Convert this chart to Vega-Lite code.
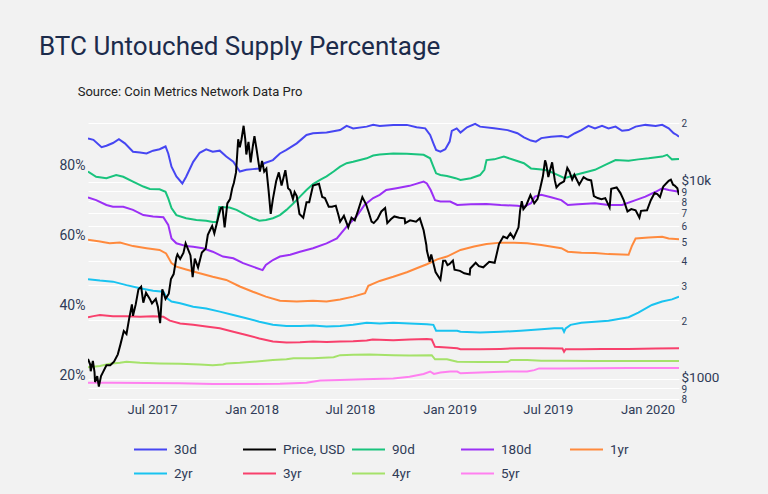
{
  "$schema": "https://vega.github.io/schema/vega-lite/v6.json",
  "width": 591,
  "height": 286,
  "autosize": {"type": "none"},
  "padding": {"left": 88, "top": 116, "right": 89, "bottom": 92},
  "background": "#f2f2f2",
  "title": {
    "text": "BTC Untouched Supply Percentage",
    "subtitle": "\u200b\u00a0\u00a0\u00a0\u00a0\u00a0\u00a0\u00a0\u00a0\u00a0\u00a0\u00a0\u00a0Source: Coin Metrics Network Data Pro",
    "anchor": "start",
    "frame": "group",
    "dx": -49,
    "offset": 17,
    "font": "Roboto",
    "fontSize": 26,
    "fontWeight": "normal",
    "color": "#1c2b4b",
    "subtitleFont": "Roboto",
    "subtitleFontSize": 13,
    "subtitleColor": "#222222",
    "subtitlePadding": 26
  },
  "config": {
    "view": {"stroke": null},
    "font": "Roboto",
    "axis": {"domain": false, "ticks": false, "labelFont": "Roboto", "labelColor": "#2f3b57", "title": null}
  },
  "datasets": {
    "supply": [
      {"d":"2017-03-05","s":"30d","v":87.9},{"d":"2017-03-15","s":"30d","v":87.5},{"d":"2017-03-30","s":"30d","v":85.4},{"d":"2017-04-08","s":"30d","v":85.8},{"d":"2017-04-20","s":"30d","v":86.6},{"d":"2017-05-01","s":"30d","v":87.7},{"d":"2017-05-12","s":"30d","v":86.5},{"d":"2017-05-27","s":"30d","v":84.1},{"d":"2017-06-09","s":"30d","v":83.9},{"d":"2017-06-21","s":"30d","v":83.6},{"d":"2017-07-03","s":"30d","v":84.4},{"d":"2017-07-15","s":"30d","v":84.8},{"d":"2017-07-26","s":"30d","v":85.6},{"d":"2017-07-31","s":"30d","v":83.6},{"d":"2017-08-06","s":"30d","v":79.8},{"d":"2017-08-15","s":"30d","v":77.0},{"d":"2017-08-26","s":"30d","v":75.0},{"d":"2017-09-02","s":"30d","v":76.9},{"d":"2017-09-15","s":"30d","v":81.2},{"d":"2017-09-27","s":"30d","v":83.8},{"d":"2017-10-09","s":"30d","v":84.8},{"d":"2017-10-21","s":"30d","v":84.1},{"d":"2017-11-03","s":"30d","v":84.4},{"d":"2017-11-15","s":"30d","v":82.7},{"d":"2017-11-28","s":"30d","v":81.2},{"d":"2017-12-10","s":"30d","v":78.4},{"d":"2017-12-22","s":"30d","v":78.9},{"d":"2018-01-03","s":"30d","v":79.1},{"d":"2018-01-15","s":"30d","v":79.3},{"d":"2018-01-24","s":"30d","v":80.8},{"d":"2018-02-09","s":"30d","v":81.7},{"d":"2018-02-22","s":"30d","v":83.6},{"d":"2018-03-06","s":"30d","v":84.6},{"d":"2018-03-25","s":"30d","v":86.5},{"d":"2018-04-12","s":"30d","v":88.9},{"d":"2018-04-24","s":"30d","v":89.4},{"d":"2018-05-19","s":"30d","v":89.6},{"d":"2018-06-13","s":"30d","v":90.3},{"d":"2018-06-25","s":"30d","v":91.5},{"d":"2018-07-07","s":"30d","v":90.8},{"d":"2018-08-01","s":"30d","v":91.3},{"d":"2018-08-13","s":"30d","v":91.8},{"d":"2018-08-25","s":"30d","v":91.5},{"d":"2018-09-19","s":"30d","v":91.8},{"d":"2018-10-14","s":"30d","v":91.8},{"d":"2018-11-01","s":"30d","v":91.1},{"d":"2018-11-17","s":"30d","v":90.8},{"d":"2018-11-26","s":"30d","v":88.9},{"d":"2018-12-02","s":"30d","v":86.5},{"d":"2018-12-07","s":"30d","v":84.6},{"d":"2018-12-15","s":"30d","v":84.1},{"d":"2018-12-24","s":"30d","v":84.8},{"d":"2019-01-01","s":"30d","v":87.0},{"d":"2019-01-05","s":"30d","v":90.1},{"d":"2019-01-14","s":"30d","v":90.8},{"d":"2019-01-21","s":"30d","v":89.6},{"d":"2019-02-02","s":"30d","v":91.1},{"d":"2019-02-17","s":"30d","v":92.1},{"d":"2019-02-26","s":"30d","v":91.3},{"d":"2019-03-24","s":"30d","v":90.8},{"d":"2019-04-18","s":"30d","v":90.3},{"d":"2019-05-06","s":"30d","v":89.4},{"d":"2019-05-18","s":"30d","v":88.2},{"d":"2019-05-31","s":"30d","v":87.3},{"d":"2019-06-09","s":"30d","v":87.0},{"d":"2019-06-19","s":"30d","v":88.0},{"d":"2019-07-07","s":"30d","v":88.4},{"d":"2019-07-26","s":"30d","v":88.6},{"d":"2019-08-07","s":"30d","v":88.2},{"d":"2019-08-20","s":"30d","v":89.4},{"d":"2019-09-01","s":"30d","v":90.3},{"d":"2019-09-14","s":"30d","v":91.5},{"d":"2019-09-26","s":"30d","v":90.8},{"d":"2019-10-09","s":"30d","v":91.5},{"d":"2019-10-21","s":"30d","v":90.8},{"d":"2019-11-03","s":"30d","v":91.3},{"d":"2019-11-15","s":"30d","v":90.1},{"d":"2019-11-27","s":"30d","v":90.3},{"d":"2019-12-10","s":"30d","v":91.3},{"d":"2019-12-28","s":"30d","v":91.8},{"d":"2020-01-16","s":"30d","v":91.5},{"d":"2020-01-28","s":"30d","v":91.8},{"d":"2020-02-09","s":"30d","v":90.8},{"d":"2020-02-18","s":"30d","v":89.4},{"d":"2020-02-24","s":"30d","v":88.9},{"d":"2020-02-28","s":"30d","v":88.4},
      {"d":"2017-03-05","s":"90d","v":78.4},{"d":"2017-03-20","s":"90d","v":76.9},{"d":"2017-04-08","s":"90d","v":76.5},{"d":"2017-04-26","s":"90d","v":77.4},{"d":"2017-05-09","s":"90d","v":76.9},{"d":"2017-05-27","s":"90d","v":75.5},{"d":"2017-06-15","s":"90d","v":74.1},{"d":"2017-06-27","s":"90d","v":73.4},{"d":"2017-07-15","s":"90d","v":73.3},{"d":"2017-07-26","s":"90d","v":72.6},{"d":"2017-07-31","s":"90d","v":70.7},{"d":"2017-08-06","s":"90d","v":67.9},{"d":"2017-08-15","s":"90d","v":65.9},{"d":"2017-09-02","s":"90d","v":65.0},{"d":"2017-09-21","s":"90d","v":64.5},{"d":"2017-10-09","s":"90d","v":64.3},{"d":"2017-10-21","s":"90d","v":63.9},{"d":"2017-10-29","s":"90d","v":63.9},{"d":"2017-11-02","s":"90d","v":68.2},{"d":"2017-11-21","s":"90d","v":68.1},{"d":"2017-12-04","s":"90d","v":67.4},{"d":"2017-12-22","s":"90d","v":65.9},{"d":"2018-01-03","s":"90d","v":65.0},{"d":"2018-01-15","s":"90d","v":64.3},{"d":"2018-01-27","s":"90d","v":64.5},{"d":"2018-02-09","s":"90d","v":65.0},{"d":"2018-02-22","s":"90d","v":65.9},{"d":"2018-03-06","s":"90d","v":67.4},{"d":"2018-03-19","s":"90d","v":69.3},{"d":"2018-03-31","s":"90d","v":71.2},{"d":"2018-04-12","s":"90d","v":73.1},{"d":"2018-04-24","s":"90d","v":74.8},{"d":"2018-05-07","s":"90d","v":76.0},{"d":"2018-05-19","s":"90d","v":77.0},{"d":"2018-06-01","s":"90d","v":78.4},{"d":"2018-06-13","s":"90d","v":79.8},{"d":"2018-06-25","s":"90d","v":80.8},{"d":"2018-07-07","s":"90d","v":81.2},{"d":"2018-08-01","s":"90d","v":82.2},{"d":"2018-08-13","s":"90d","v":83.0},{"d":"2018-08-25","s":"90d","v":83.3},{"d":"2018-09-19","s":"90d","v":83.6},{"d":"2018-10-14","s":"90d","v":83.5},{"d":"2018-11-14","s":"90d","v":83.2},{"d":"2018-11-26","s":"90d","v":82.2},{"d":"2018-12-02","s":"90d","v":79.8},{"d":"2018-12-07","s":"90d","v":77.9},{"d":"2018-12-15","s":"90d","v":77.4},{"d":"2018-12-27","s":"90d","v":77.1},{"d":"2019-01-12","s":"90d","v":76.5},{"d":"2019-01-21","s":"90d","v":76.0},{"d":"2019-02-09","s":"90d","v":76.5},{"d":"2019-02-26","s":"90d","v":77.4},{"d":"2019-03-06","s":"90d","v":78.9},{"d":"2019-03-10","s":"90d","v":81.7},{"d":"2019-03-24","s":"90d","v":81.9},{"d":"2019-04-11","s":"90d","v":82.7},{"d":"2019-04-30","s":"90d","v":81.7},{"d":"2019-05-18","s":"90d","v":80.8},{"d":"2019-05-31","s":"90d","v":79.3},{"d":"2019-06-19","s":"90d","v":79.0},{"d":"2019-07-01","s":"90d","v":78.7},{"d":"2019-07-20","s":"90d","v":77.4},{"d":"2019-08-01","s":"90d","v":76.5},{"d":"2019-08-20","s":"90d","v":77.4},{"d":"2019-09-14","s":"90d","v":78.4},{"d":"2019-09-26","s":"90d","v":78.9},{"d":"2019-10-15","s":"90d","v":80.3},{"d":"2019-11-03","s":"90d","v":81.7},{"d":"2019-11-27","s":"90d","v":81.5},{"d":"2019-12-15","s":"90d","v":81.9},{"d":"2020-01-03","s":"90d","v":82.2},{"d":"2020-01-28","s":"90d","v":82.7},{"d":"2020-02-06","s":"90d","v":83.2},{"d":"2020-02-15","s":"90d","v":81.9},{"d":"2020-02-28","s":"90d","v":82.0},
      {"d":"2017-03-05","s":"180d","v":71.0},{"d":"2017-03-20","s":"180d","v":70.2},{"d":"2017-04-08","s":"180d","v":68.8},{"d":"2017-04-20","s":"180d","v":68.3},{"d":"2017-05-09","s":"180d","v":68.3},{"d":"2017-05-27","s":"180d","v":67.4},{"d":"2017-06-15","s":"180d","v":65.9},{"d":"2017-07-03","s":"180d","v":65.5},{"d":"2017-07-22","s":"180d","v":65.3},{"d":"2017-07-31","s":"180d","v":63.1},{"d":"2017-08-06","s":"180d","v":59.2},{"d":"2017-08-15","s":"180d","v":57.8},{"d":"2017-09-02","s":"180d","v":57.0},{"d":"2017-09-15","s":"180d","v":56.8},{"d":"2017-10-03","s":"180d","v":56.4},{"d":"2017-10-21","s":"180d","v":55.4},{"d":"2017-11-09","s":"180d","v":54.0},{"d":"2017-11-28","s":"180d","v":53.5},{"d":"2017-12-16","s":"180d","v":52.1},{"d":"2018-01-03","s":"180d","v":51.1},{"d":"2018-01-21","s":"180d","v":50.1},{"d":"2018-01-27","s":"180d","v":51.6},{"d":"2018-02-09","s":"180d","v":53.0},{"d":"2018-02-22","s":"180d","v":54.0},{"d":"2018-03-13","s":"180d","v":54.5},{"d":"2018-03-31","s":"180d","v":55.4},{"d":"2018-04-24","s":"180d","v":56.4},{"d":"2018-05-19","s":"180d","v":57.8},{"d":"2018-06-07","s":"180d","v":59.2},{"d":"2018-06-25","s":"180d","v":62.6},{"d":"2018-07-13","s":"180d","v":65.5},{"d":"2018-07-28","s":"180d","v":68.8},{"d":"2018-08-13","s":"180d","v":70.8},{"d":"2018-08-25","s":"180d","v":71.7},{"d":"2018-09-06","s":"180d","v":73.1},{"d":"2018-09-25","s":"180d","v":73.6},{"d":"2018-10-19","s":"180d","v":74.3},{"d":"2018-11-14","s":"180d","v":75.5},{"d":"2018-11-20","s":"180d","v":75.0},{"d":"2018-11-27","s":"180d","v":73.1},{"d":"2018-12-05","s":"180d","v":70.2},{"d":"2018-12-15","s":"180d","v":69.8},{"d":"2019-01-02","s":"180d","v":69.8},{"d":"2019-01-15","s":"180d","v":68.8},{"d":"2019-02-09","s":"180d","v":69.0},{"d":"2019-03-10","s":"180d","v":69.1},{"d":"2019-04-05","s":"180d","v":68.8},{"d":"2019-05-06","s":"180d","v":68.6},{"d":"2019-05-18","s":"180d","v":68.3},{"d":"2019-05-31","s":"180d","v":69.3},{"d":"2019-06-07","s":"180d","v":71.2},{"d":"2019-06-19","s":"180d","v":71.7},{"d":"2019-07-07","s":"180d","v":71.0},{"d":"2019-07-26","s":"180d","v":70.2},{"d":"2019-08-07","s":"180d","v":68.8},{"d":"2019-08-26","s":"180d","v":69.0},{"d":"2019-09-26","s":"180d","v":69.3},{"d":"2019-10-21","s":"180d","v":68.8},{"d":"2019-11-15","s":"180d","v":68.8},{"d":"2019-12-10","s":"180d","v":70.2},{"d":"2019-12-28","s":"180d","v":71.2},{"d":"2020-01-16","s":"180d","v":72.6},{"d":"2020-01-28","s":"180d","v":73.6},{"d":"2020-02-09","s":"180d","v":73.1},{"d":"2020-02-28","s":"180d","v":72.6},
      {"d":"2017-03-05","s":"1yr","v":58.8},{"d":"2017-03-27","s":"1yr","v":58.3},{"d":"2017-04-14","s":"1yr","v":57.8},{"d":"2017-05-03","s":"1yr","v":58.0},{"d":"2017-05-27","s":"1yr","v":57.0},{"d":"2017-06-21","s":"1yr","v":56.4},{"d":"2017-07-15","s":"1yr","v":55.9},{"d":"2017-07-27","s":"1yr","v":54.9},{"d":"2017-08-06","s":"1yr","v":52.1},{"d":"2017-08-15","s":"1yr","v":51.1},{"d":"2017-09-02","s":"1yr","v":50.3},{"d":"2017-09-27","s":"1yr","v":49.2},{"d":"2017-10-21","s":"1yr","v":48.2},{"d":"2017-11-15","s":"1yr","v":47.3},{"d":"2017-12-10","s":"1yr","v":45.4},{"d":"2018-01-03","s":"1yr","v":43.9},{"d":"2018-01-27","s":"1yr","v":42.5},{"d":"2018-02-22","s":"1yr","v":41.3},{"d":"2018-03-25","s":"1yr","v":41.1},{"d":"2018-04-24","s":"1yr","v":41.3},{"d":"2018-05-19","s":"1yr","v":41.1},{"d":"2018-06-13","s":"1yr","v":41.7},{"d":"2018-07-07","s":"1yr","v":42.5},{"d":"2018-07-29","s":"1yr","v":43.5},{"d":"2018-08-04","s":"1yr","v":45.6},{"d":"2018-08-25","s":"1yr","v":47.0},{"d":"2018-09-19","s":"1yr","v":48.2},{"d":"2018-10-14","s":"1yr","v":49.5},{"d":"2018-11-07","s":"1yr","v":51.0},{"d":"2018-11-20","s":"1yr","v":51.8},{"d":"2018-12-09","s":"1yr","v":53.2},{"d":"2018-12-27","s":"1yr","v":54.0},{"d":"2019-01-21","s":"1yr","v":55.9},{"d":"2019-02-15","s":"1yr","v":56.9},{"d":"2019-03-10","s":"1yr","v":57.6},{"d":"2019-04-05","s":"1yr","v":58.0},{"d":"2019-04-30","s":"1yr","v":58.0},{"d":"2019-05-24","s":"1yr","v":57.8},{"d":"2019-06-19","s":"1yr","v":57.3},{"d":"2019-07-26","s":"1yr","v":56.4},{"d":"2019-08-07","s":"1yr","v":55.4},{"d":"2019-09-01","s":"1yr","v":55.1},{"d":"2019-09-26","s":"1yr","v":55.0},{"d":"2019-10-21","s":"1yr","v":54.7},{"d":"2019-11-27","s":"1yr","v":54.5},{"d":"2019-12-03","s":"1yr","v":57.0},{"d":"2019-12-10","s":"1yr","v":59.2},{"d":"2020-01-03","s":"1yr","v":59.5},{"d":"2020-01-28","s":"1yr","v":59.7},{"d":"2020-02-09","s":"1yr","v":59.2},{"d":"2020-02-28","s":"1yr","v":59.0},
      {"d":"2017-03-05","s":"2yr","v":47.5},{"d":"2017-03-27","s":"2yr","v":47.1},{"d":"2017-04-20","s":"2yr","v":46.8},{"d":"2017-05-15","s":"2yr","v":45.8},{"d":"2017-06-09","s":"2yr","v":44.9},{"d":"2017-07-03","s":"2yr","v":44.2},{"d":"2017-07-22","s":"2yr","v":43.9},{"d":"2017-07-29","s":"2yr","v":42.0},{"d":"2017-08-06","s":"2yr","v":41.1},{"d":"2017-08-22","s":"2yr","v":40.6},{"d":"2017-09-15","s":"2yr","v":39.6},{"d":"2017-10-09","s":"2yr","v":39.1},{"d":"2017-11-03","s":"2yr","v":38.2},{"d":"2017-11-28","s":"2yr","v":37.2},{"d":"2017-12-22","s":"2yr","v":36.3},{"d":"2018-01-15","s":"2yr","v":35.3},{"d":"2018-02-09","s":"2yr","v":34.4},{"d":"2018-03-06","s":"2yr","v":34.1},{"d":"2018-03-31","s":"2yr","v":34.1},{"d":"2018-04-24","s":"2yr","v":34.2},{"d":"2018-05-19","s":"2yr","v":33.9},{"d":"2018-06-13","s":"2yr","v":34.1},{"d":"2018-07-07","s":"2yr","v":34.4},{"d":"2018-08-01","s":"2yr","v":35.0},{"d":"2018-08-25","s":"2yr","v":34.8},{"d":"2018-09-19","s":"2yr","v":35.0},{"d":"2018-10-19","s":"2yr","v":34.8},{"d":"2018-11-20","s":"2yr","v":34.6},{"d":"2018-12-02","s":"2yr","v":34.4},{"d":"2018-12-07","s":"2yr","v":32.7},{"d":"2018-12-27","s":"2yr","v":32.7},{"d":"2019-01-15","s":"2yr","v":32.7},{"d":"2019-01-21","s":"2yr","v":32.4},{"d":"2019-02-26","s":"2yr","v":32.2},{"d":"2019-04-05","s":"2yr","v":32.4},{"d":"2019-05-12","s":"2yr","v":32.7},{"d":"2019-06-19","s":"2yr","v":33.1},{"d":"2019-07-13","s":"2yr","v":33.4},{"d":"2019-07-28","s":"2yr","v":33.4},{"d":"2019-07-31","s":"2yr","v":32.4},{"d":"2019-08-03","s":"2yr","v":33.4},{"d":"2019-08-12","s":"2yr","v":34.4},{"d":"2019-09-01","s":"2yr","v":35.0},{"d":"2019-09-26","s":"2yr","v":35.3},{"d":"2019-10-21","s":"2yr","v":35.6},{"d":"2019-11-27","s":"2yr","v":36.6},{"d":"2019-12-15","s":"2yr","v":37.9},{"d":"2020-01-09","s":"2yr","v":40.1},{"d":"2020-01-28","s":"2yr","v":41.1},{"d":"2020-02-15","s":"2yr","v":41.7},{"d":"2020-02-28","s":"2yr","v":42.5},
      {"d":"2017-03-05","s":"3yr","v":36.6},{"d":"2017-03-15","s":"3yr","v":36.9},{"d":"2017-03-27","s":"3yr","v":37.2},{"d":"2017-04-20","s":"3yr","v":36.9},{"d":"2017-05-15","s":"3yr","v":36.9},{"d":"2017-06-09","s":"3yr","v":36.7},{"d":"2017-07-03","s":"3yr","v":36.9},{"d":"2017-07-22","s":"3yr","v":36.7},{"d":"2017-08-03","s":"3yr","v":35.6},{"d":"2017-08-22","s":"3yr","v":34.8},{"d":"2017-09-15","s":"3yr","v":34.4},{"d":"2017-10-09","s":"3yr","v":33.9},{"d":"2017-11-03","s":"3yr","v":33.4},{"d":"2017-11-28","s":"3yr","v":32.4},{"d":"2017-12-22","s":"3yr","v":31.5},{"d":"2018-01-15","s":"3yr","v":30.5},{"d":"2018-02-09","s":"3yr","v":29.6},{"d":"2018-03-06","s":"3yr","v":29.3},{"d":"2018-03-31","s":"3yr","v":29.4},{"d":"2018-04-24","s":"3yr","v":29.6},{"d":"2018-05-19","s":"3yr","v":29.5},{"d":"2018-06-13","s":"3yr","v":29.6},{"d":"2018-07-07","s":"3yr","v":29.7},{"d":"2018-08-01","s":"3yr","v":29.9},{"d":"2018-08-12","s":"3yr","v":30.2},{"d":"2018-09-19","s":"3yr","v":30.0},{"d":"2018-10-19","s":"3yr","v":30.2},{"d":"2018-11-20","s":"3yr","v":30.3},{"d":"2018-11-29","s":"3yr","v":30.2},{"d":"2018-12-05","s":"3yr","v":28.1},{"d":"2018-12-27","s":"3yr","v":27.9},{"d":"2019-01-15","s":"3yr","v":27.7},{"d":"2019-01-21","s":"3yr","v":27.4},{"d":"2019-02-26","s":"3yr","v":27.4},{"d":"2019-04-05","s":"3yr","v":27.5},{"d":"2019-05-12","s":"3yr","v":27.7},{"d":"2019-06-19","s":"3yr","v":27.7},{"d":"2019-07-28","s":"3yr","v":27.6},{"d":"2019-07-31","s":"3yr","v":26.7},{"d":"2019-08-03","s":"3yr","v":27.4},{"d":"2019-09-01","s":"3yr","v":27.4},{"d":"2019-10-09","s":"3yr","v":27.5},{"d":"2019-11-27","s":"3yr","v":27.5},{"d":"2020-01-16","s":"3yr","v":27.6},{"d":"2020-02-28","s":"3yr","v":27.7},
      {"d":"2017-03-05","s":"4yr","v":22.2},{"d":"2017-03-27","s":"4yr","v":22.6},{"d":"2017-04-14","s":"4yr","v":23.2},{"d":"2017-05-03","s":"4yr","v":23.5},{"d":"2017-05-15","s":"4yr","v":23.8},{"d":"2017-06-09","s":"4yr","v":23.5},{"d":"2017-07-15","s":"4yr","v":23.3},{"d":"2017-08-22","s":"4yr","v":23.2},{"d":"2017-09-27","s":"4yr","v":23.0},{"d":"2017-10-21","s":"4yr","v":22.8},{"d":"2017-11-09","s":"4yr","v":23.0},{"d":"2017-11-15","s":"4yr","v":23.3},{"d":"2017-12-10","s":"4yr","v":23.5},{"d":"2018-01-03","s":"4yr","v":23.8},{"d":"2018-02-09","s":"4yr","v":24.3},{"d":"2018-03-06","s":"4yr","v":24.5},{"d":"2018-03-19","s":"4yr","v":24.8},{"d":"2018-04-24","s":"4yr","v":24.8},{"d":"2018-06-01","s":"4yr","v":25.1},{"d":"2018-06-13","s":"4yr","v":25.7},{"d":"2018-07-07","s":"4yr","v":25.8},{"d":"2018-08-06","s":"4yr","v":25.9},{"d":"2018-09-19","s":"4yr","v":25.7},{"d":"2018-10-19","s":"4yr","v":25.6},{"d":"2018-11-29","s":"4yr","v":25.7},{"d":"2018-12-05","s":"4yr","v":24.5},{"d":"2018-12-27","s":"4yr","v":24.5},{"d":"2019-01-15","s":"4yr","v":23.8},{"d":"2019-02-26","s":"4yr","v":23.7},{"d":"2019-04-18","s":"4yr","v":23.7},{"d":"2019-04-24","s":"4yr","v":24.3},{"d":"2019-05-24","s":"4yr","v":24.3},{"d":"2019-06-19","s":"4yr","v":24.1},{"d":"2019-07-26","s":"4yr","v":24.1},{"d":"2019-09-26","s":"4yr","v":24.0},{"d":"2019-11-27","s":"4yr","v":24.0},{"d":"2020-02-28","s":"4yr","v":24.0},
      {"d":"2017-03-05","s":"5yr","v":17.8},{"d":"2017-04-20","s":"5yr","v":17.8},{"d":"2017-06-21","s":"5yr","v":17.7},{"d":"2017-08-22","s":"5yr","v":17.6},{"d":"2017-10-21","s":"5yr","v":17.4},{"d":"2017-12-22","s":"5yr","v":17.4},{"d":"2018-02-22","s":"5yr","v":17.5},{"d":"2018-04-12","s":"5yr","v":17.8},{"d":"2018-05-07","s":"5yr","v":18.4},{"d":"2018-06-13","s":"5yr","v":18.6},{"d":"2018-07-26","s":"5yr","v":18.8},{"d":"2018-09-19","s":"5yr","v":19.0},{"d":"2018-10-19","s":"5yr","v":19.5},{"d":"2018-11-14","s":"5yr","v":20.3},{"d":"2018-11-26","s":"5yr","v":21.0},{"d":"2018-12-03","s":"5yr","v":20.3},{"d":"2018-12-15","s":"5yr","v":20.7},{"d":"2019-01-02","s":"5yr","v":21.0},{"d":"2019-01-15","s":"5yr","v":21.0},{"d":"2019-01-21","s":"5yr","v":20.5},{"d":"2019-02-26","s":"5yr","v":20.7},{"d":"2019-04-18","s":"5yr","v":21.0},{"d":"2019-05-24","s":"5yr","v":21.0},{"d":"2019-06-06","s":"5yr","v":21.4},{"d":"2019-06-15","s":"5yr","v":21.9},{"d":"2019-07-26","s":"5yr","v":21.9},{"d":"2019-11-27","s":"5yr","v":22.0},{"d":"2020-02-28","s":"5yr","v":22.0}
    ],
    "price": [
      {"d":"2017-03-05","s":"Price, USD","p":1270},{"d":"2017-03-09","s":"Price, USD","p":1190},{"d":"2017-03-10","s":"Price, USD","p":1100},{"d":"2017-03-14","s":"Price, USD","p":1240},{"d":"2017-03-17","s":"Price, USD","p":1090},{"d":"2017-03-18","s":"Price, USD","p":970},{"d":"2017-03-22","s":"Price, USD","p":1040},{"d":"2017-03-25","s":"Price, USD","p":920},{"d":"2017-03-29","s":"Price, USD","p":1040},{"d":"2017-04-01","s":"Price, USD","p":1080},{"d":"2017-04-08","s":"Price, USD","p":1180},{"d":"2017-04-15","s":"Price, USD","p":1180},{"d":"2017-04-22","s":"Price, USD","p":1230},{"d":"2017-04-29","s":"Price, USD","p":1340},{"d":"2017-05-04","s":"Price, USD","p":1510},{"d":"2017-05-10","s":"Price, USD","p":1760},{"d":"2017-05-15","s":"Price, USD","p":1700},{"d":"2017-05-20","s":"Price, USD","p":2040},{"d":"2017-05-25","s":"Price, USD","p":2400},{"d":"2017-05-27","s":"Price, USD","p":2100},{"d":"2017-06-01","s":"Price, USD","p":2400},{"d":"2017-06-06","s":"Price, USD","p":2860},{"d":"2017-06-11","s":"Price, USD","p":2950},{"d":"2017-06-15","s":"Price, USD","p":2450},{"d":"2017-06-20","s":"Price, USD","p":2750},{"d":"2017-06-27","s":"Price, USD","p":2560},{"d":"2017-07-01","s":"Price, USD","p":2430},{"d":"2017-07-08","s":"Price, USD","p":2560},{"d":"2017-07-12","s":"Price, USD","p":2330},{"d":"2017-07-16","s":"Price, USD","p":1930},{"d":"2017-07-20","s":"Price, USD","p":2860},{"d":"2017-07-26","s":"Price, USD","p":2560},{"d":"2017-08-01","s":"Price, USD","p":2720},{"d":"2017-08-05","s":"Price, USD","p":3230},{"d":"2017-08-10","s":"Price, USD","p":3420},{"d":"2017-08-15","s":"Price, USD","p":4150},{"d":"2017-08-17","s":"Price, USD","p":4300},{"d":"2017-08-22","s":"Price, USD","p":4080},{"d":"2017-08-28","s":"Price, USD","p":4380},{"d":"2017-09-01","s":"Price, USD","p":4900},{"d":"2017-09-05","s":"Price, USD","p":4600},{"d":"2017-09-10","s":"Price, USD","p":4250},{"d":"2017-09-14","s":"Price, USD","p":3300},{"d":"2017-09-18","s":"Price, USD","p":4100},{"d":"2017-09-24","s":"Price, USD","p":3690},{"d":"2017-10-01","s":"Price, USD","p":4400},{"d":"2017-10-08","s":"Price, USD","p":4600},{"d":"2017-10-12","s":"Price, USD","p":5400},{"d":"2017-10-16","s":"Price, USD","p":5700},{"d":"2017-10-20","s":"Price, USD","p":6000},{"d":"2017-10-24","s":"Price, USD","p":5500},{"d":"2017-11-01","s":"Price, USD","p":6750},{"d":"2017-11-05","s":"Price, USD","p":7400},{"d":"2017-11-08","s":"Price, USD","p":7450},{"d":"2017-11-12","s":"Price, USD","p":5900},{"d":"2017-11-17","s":"Price, USD","p":7800},{"d":"2017-11-22","s":"Price, USD","p":8200},{"d":"2017-11-26","s":"Price, USD","p":9300},{"d":"2017-11-29","s":"Price, USD","p":9900},{"d":"2017-12-03","s":"Price, USD","p":11200},{"d":"2017-12-07","s":"Price, USD","p":16500},{"d":"2017-12-10","s":"Price, USD","p":15000},{"d":"2017-12-13","s":"Price, USD","p":16400},{"d":"2017-12-17","s":"Price, USD","p":19300},{"d":"2017-12-20","s":"Price, USD","p":16500},{"d":"2017-12-22","s":"Price, USD","p":13800},{"d":"2017-12-26","s":"Price, USD","p":16000},{"d":"2017-12-30","s":"Price, USD","p":12600},{"d":"2018-01-03","s":"Price, USD","p":15200},{"d":"2018-01-06","s":"Price, USD","p":17100},{"d":"2018-01-10","s":"Price, USD","p":14600},{"d":"2018-01-16","s":"Price, USD","p":11300},{"d":"2018-01-20","s":"Price, USD","p":12800},{"d":"2018-01-24","s":"Price, USD","p":11300},{"d":"2018-01-28","s":"Price, USD","p":11700},{"d":"2018-02-01","s":"Price, USD","p":9100},{"d":"2018-02-05","s":"Price, USD","p":6900},{"d":"2018-02-09","s":"Price, USD","p":8200},{"d":"2018-02-15","s":"Price, USD","p":10100},{"d":"2018-02-20","s":"Price, USD","p":11200},{"d":"2018-02-25","s":"Price, USD","p":9600},{"d":"2018-03-04","s":"Price, USD","p":11500},{"d":"2018-03-09","s":"Price, USD","p":9300},{"d":"2018-03-13","s":"Price, USD","p":9100},{"d":"2018-03-18","s":"Price, USD","p":8200},{"d":"2018-03-21","s":"Price, USD","p":8900},{"d":"2018-03-25","s":"Price, USD","p":8500},{"d":"2018-03-30","s":"Price, USD","p":6900},{"d":"2018-04-06","s":"Price, USD","p":6600},{"d":"2018-04-12","s":"Price, USD","p":7900},{"d":"2018-04-17","s":"Price, USD","p":7900},{"d":"2018-04-24","s":"Price, USD","p":9600},{"d":"2018-05-05","s":"Price, USD","p":9800},{"d":"2018-05-11","s":"Price, USD","p":8400},{"d":"2018-05-16","s":"Price, USD","p":8300},{"d":"2018-05-23","s":"Price, USD","p":7500},{"d":"2018-05-29","s":"Price, USD","p":7500},{"d":"2018-06-05","s":"Price, USD","p":7600},{"d":"2018-06-10","s":"Price, USD","p":6800},{"d":"2018-06-13","s":"Price, USD","p":6300},{"d":"2018-06-20","s":"Price, USD","p":6750},{"d":"2018-06-28","s":"Price, USD","p":5900},{"d":"2018-07-04","s":"Price, USD","p":6600},{"d":"2018-07-10","s":"Price, USD","p":6400},{"d":"2018-07-17","s":"Price, USD","p":7300},{"d":"2018-07-24","s":"Price, USD","p":8400},{"d":"2018-07-31","s":"Price, USD","p":7700},{"d":"2018-08-05","s":"Price, USD","p":7000},{"d":"2018-08-10","s":"Price, USD","p":6300},{"d":"2018-08-14","s":"Price, USD","p":6200},{"d":"2018-08-21","s":"Price, USD","p":6500},{"d":"2018-08-28","s":"Price, USD","p":7100},{"d":"2018-09-04","s":"Price, USD","p":7400},{"d":"2018-09-08","s":"Price, USD","p":6200},{"d":"2018-09-15","s":"Price, USD","p":6500},{"d":"2018-09-21","s":"Price, USD","p":6700},{"d":"2018-09-30","s":"Price, USD","p":6600},{"d":"2018-10-10","s":"Price, USD","p":6550},{"d":"2018-10-11","s":"Price, USD","p":6200},{"d":"2018-10-20","s":"Price, USD","p":6400},{"d":"2018-10-31","s":"Price, USD","p":6300},{"d":"2018-11-07","s":"Price, USD","p":6550},{"d":"2018-11-14","s":"Price, USD","p":5700},{"d":"2018-11-19","s":"Price, USD","p":4800},{"d":"2018-11-20","s":"Price, USD","p":4500},{"d":"2018-11-25","s":"Price, USD","p":3950},{"d":"2018-11-28","s":"Price, USD","p":4300},{"d":"2018-12-06","s":"Price, USD","p":3500},{"d":"2018-12-15","s":"Price, USD","p":3200},{"d":"2018-12-20","s":"Price, USD","p":4000},{"d":"2018-12-24","s":"Price, USD","p":4000},{"d":"2018-12-28","s":"Price, USD","p":3800},{"d":"2019-01-01","s":"Price, USD","p":3850},{"d":"2019-01-07","s":"Price, USD","p":4000},{"d":"2019-01-10","s":"Price, USD","p":3600},{"d":"2019-01-20","s":"Price, USD","p":3550},{"d":"2019-01-28","s":"Price, USD","p":3450},{"d":"2019-02-07","s":"Price, USD","p":3400},{"d":"2019-02-08","s":"Price, USD","p":3650},{"d":"2019-02-18","s":"Price, USD","p":3900},{"d":"2019-02-24","s":"Price, USD","p":3750},{"d":"2019-03-04","s":"Price, USD","p":3700},{"d":"2019-03-15","s":"Price, USD","p":3950},{"d":"2019-03-25","s":"Price, USD","p":3900},{"d":"2019-04-02","s":"Price, USD","p":4850},{"d":"2019-04-10","s":"Price, USD","p":5300},{"d":"2019-04-17","s":"Price, USD","p":5200},{"d":"2019-04-23","s":"Price, USD","p":5500},{"d":"2019-04-29","s":"Price, USD","p":5200},{"d":"2019-05-08","s":"Price, USD","p":5900},{"d":"2019-05-11","s":"Price, USD","p":7200},{"d":"2019-05-14","s":"Price, USD","p":8000},{"d":"2019-05-17","s":"Price, USD","p":7300},{"d":"2019-05-22","s":"Price, USD","p":7600},{"d":"2019-05-30","s":"Price, USD","p":8600},{"d":"2019-06-06","s":"Price, USD","p":7800},{"d":"2019-06-12","s":"Price, USD","p":8200},{"d":"2019-06-17","s":"Price, USD","p":9300},{"d":"2019-06-22","s":"Price, USD","p":10700},{"d":"2019-06-26","s":"Price, USD","p":12900},{"d":"2019-06-28","s":"Price, USD","p":12400},{"d":"2019-07-02","s":"Price, USD","p":10600},{"d":"2019-07-09","s":"Price, USD","p":12600},{"d":"2019-07-14","s":"Price, USD","p":10200},{"d":"2019-07-17","s":"Price, USD","p":9400},{"d":"2019-07-23","s":"Price, USD","p":9800},{"d":"2019-07-31","s":"Price, USD","p":10100},{"d":"2019-08-06","s":"Price, USD","p":11800},{"d":"2019-08-10","s":"Price, USD","p":11300},{"d":"2019-08-15","s":"Price, USD","p":10300},{"d":"2019-08-19","s":"Price, USD","p":10900},{"d":"2019-08-28","s":"Price, USD","p":9700},{"d":"2019-09-05","s":"Price, USD","p":10600},{"d":"2019-09-12","s":"Price, USD","p":10300},{"d":"2019-09-19","s":"Price, USD","p":10200},{"d":"2019-09-24","s":"Price, USD","p":8500},{"d":"2019-10-01","s":"Price, USD","p":8300},{"d":"2019-10-08","s":"Price, USD","p":8200},{"d":"2019-10-15","s":"Price, USD","p":8300},{"d":"2019-10-23","s":"Price, USD","p":7450},{"d":"2019-10-26","s":"Price, USD","p":9250},{"d":"2019-11-05","s":"Price, USD","p":9400},{"d":"2019-11-12","s":"Price, USD","p":8800},{"d":"2019-11-18","s":"Price, USD","p":8100},{"d":"2019-11-25","s":"Price, USD","p":7100},{"d":"2019-12-02","s":"Price, USD","p":7300},{"d":"2019-12-10","s":"Price, USD","p":7200},{"d":"2019-12-17","s":"Price, USD","p":6600},{"d":"2019-12-20","s":"Price, USD","p":7150},{"d":"2019-12-31","s":"Price, USD","p":7200},{"d":"2020-01-07","s":"Price, USD","p":8100},{"d":"2020-01-14","s":"Price, USD","p":8800},{"d":"2020-01-19","s":"Price, USD","p":8700},{"d":"2020-01-24","s":"Price, USD","p":8400},{"d":"2020-01-30","s":"Price, USD","p":9500},{"d":"2020-02-09","s":"Price, USD","p":10150},{"d":"2020-02-13","s":"Price, USD","p":10300},{"d":"2020-02-17","s":"Price, USD","p":9700},{"d":"2020-02-20","s":"Price, USD","p":9600},{"d":"2020-02-25","s":"Price, USD","p":9300},{"d":"2020-02-27","s":"Price, USD","p":8800},{"d":"2020-02-28","s":"Price, USD","p":8600}
    ]
  },
  "layer": [
    {
      "data": {"name": "supply"},
      "mark": {"type": "line", "strokeWidth": 2, "clip": true},
      "encoding": {
        "x": {
          "field": "d", "type": "temporal",
          "scale": {"type": "utc", "domain": [{"year": 2017, "month": 3, "date": 5, "utc": true}, {"year": 2020, "month": 2, "date": 28, "utc": true}]},
          "axis": {
            "grid": false, "labelFontSize": 13, "labelPadding": 1, "format": "%b %Y",
            "values": [
              {"year": 2017, "month": 7, "date": 1, "utc": true},
              {"year": 2018, "month": 1, "date": 1, "utc": true},
              {"year": 2018, "month": 7, "date": 1, "utc": true},
              {"year": 2019, "month": 1, "date": 1, "utc": true},
              {"year": 2019, "month": 7, "date": 1, "utc": true},
              {"year": 2020, "month": 1, "date": 1, "utc": true}
            ]
          }
        },
        "y": {
          "field": "v", "type": "quantitative",
          "scale": {"domain": [12.25, 94.35], "nice": false, "zero": false},
          "axis": {"orient": "left", "grid": false, "values": [20, 40, 60, 80], "labelExpr": "datum.value + '%'", "labelFontSize": 14, "labelPadding": 3}
        },
        "color": {
          "field": "s", "type": "nominal",
          "scale": {
            "domain": ["30d", "Price, USD", "90d", "180d", "1yr", "2yr", "3yr", "4yr", "5yr"],
            "range": ["#4646f2", "#000000", "#19c37d", "#9b30f5", "#ff8a3d", "#19c3f0", "#f8406c", "#a5e26a", "#ff80f0"]
          },
          "legend": {
            "orient": "none", "legendX": 45, "legendY": 316, "direction": "horizontal", "columns": 5,
            "title": null, "symbolType": "stroke", "symbolStrokeWidth": 2, "symbolSize": 1089,
            "labelFontSize": 13.5, "labelFont": "Roboto", "labelColor": "#2f3b57", "labelOffset": 6,
            "columnPadding": 2, "rowPadding": -9, "gridAlign": "all"
          }
        }
      }
    },
    {
      "data": {"name": "price"},
      "mark": {"type": "line", "strokeWidth": 2, "clip": true},
      "encoding": {
        "x": {"field": "d", "type": "temporal"},
        "y": {
          "field": "p", "type": "quantitative",
          "scale": {"type": "log", "domain": [768.5, 21630], "nice": false},
          "axis": {
            "orient": "right", "grid": true, "gridColor": "#ffffff", "gridWidth": 1, "gridOpacity": 1,
            "labelOverlap": false,
            "values": [800, 900, 1000, 2000, 3000, 4000, 5000, 6000, 7000, 8000, 9000, 10000, 20000],
            "labelExpr": "datum.value == 10000 ? '$10k' : datum.value == 1000 ? '$1000' : substring(toString(datum.value), 0, 1)",
            "labelFontSize": {"condition": {"test": "datum.value == 10000 || datum.value == 1000", "value": 13.5}, "value": 10},
            "labelOffset": {"condition": {"test": "datum.value == 10000 || datum.value == 1000", "value": -2}, "value": 1},
            "labelPadding": 2
          }
        },
        "color": {"field": "s", "type": "nominal"}
      }
    }
  ],
  "resolve": {"scale": {"y": "independent"}, "axis": {"y": "independent"}}
}
